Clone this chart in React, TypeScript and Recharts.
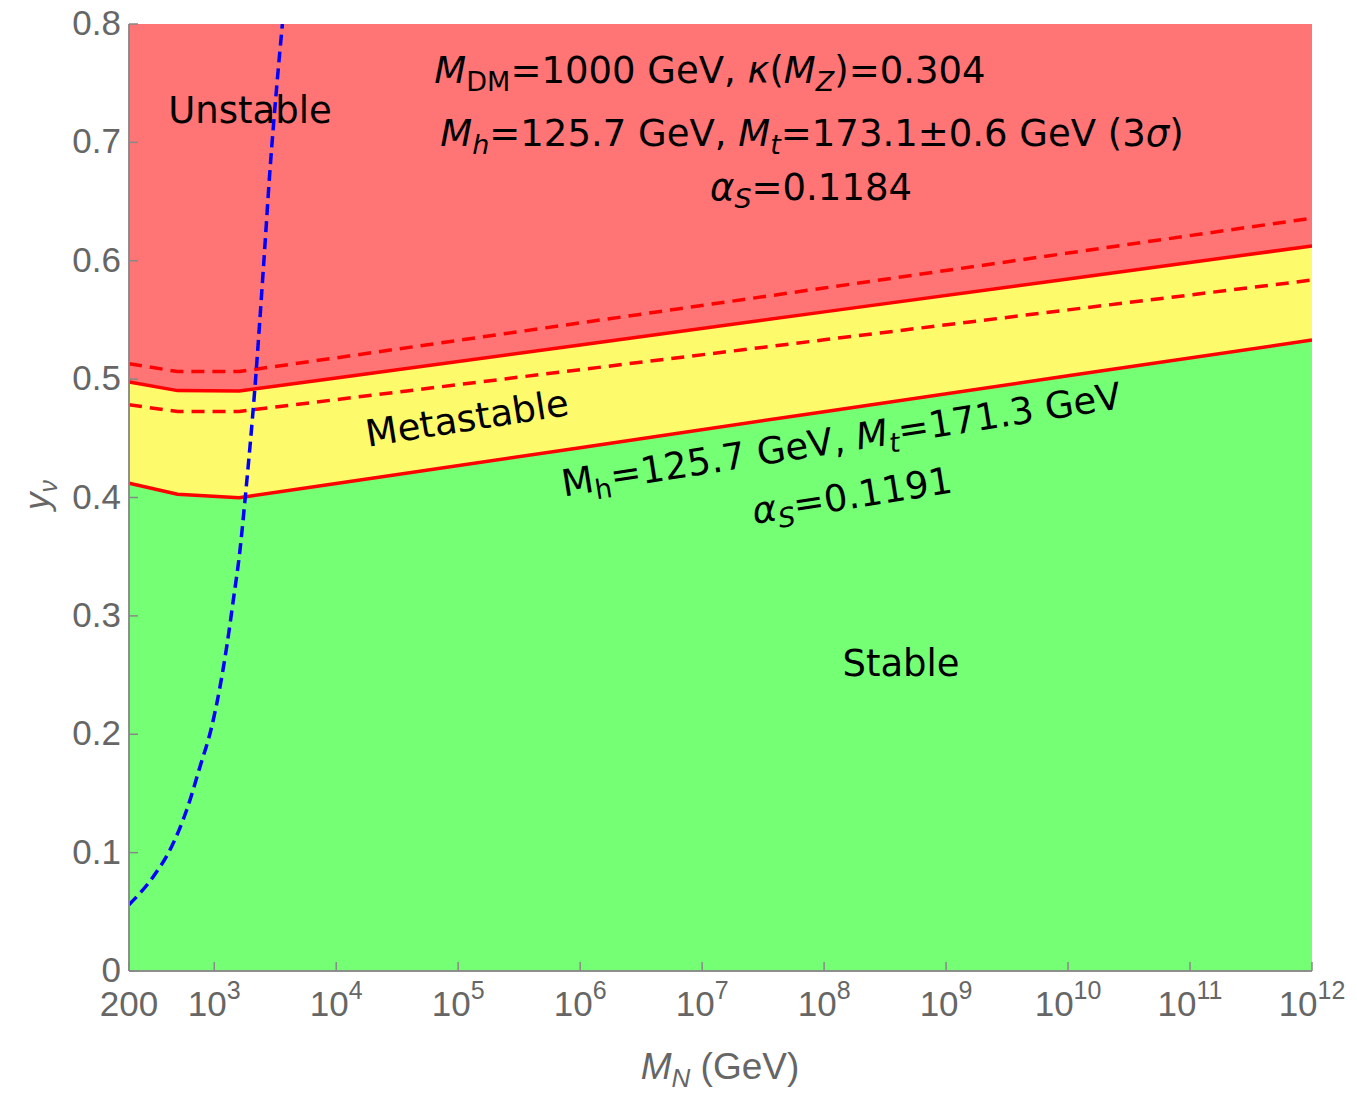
import { ComposedChart, Area, Line, XAxis, YAxis } from 'recharts'

// heavy neutrino mass grid (GeV) for the stability boundaries
const massGeV = [200, 500, 1600, 1e4, 1e6, 1e8, 1e10, 1e12]
// y_nu at the stable / metastable boundary (M_t = 171.3 GeV)
const stableEdge = [0.412, 0.4027, 0.3998, 0.4118, 0.4421, 0.4725, 0.5028, 0.533]
// y_nu at the metastable / unstable boundary (M_t = 173.1 GeV, central)
const unstableEdge = [0.4976, 0.4903, 0.49, 0.501, 0.5289, 0.5568, 0.5846, 0.6125]
// 3 sigma band on M_t for the unstable boundary
const unstableEdgeMtLow = [0.513, 0.5064, 0.5064, 0.518, 0.5475, 0.577, 0.6065, 0.636]
const unstableEdgeMtHigh = [0.4783, 0.4727, 0.4727, 0.4827, 0.508, 0.5332, 0.5585, 0.5837]

// seesaw relation y_nu(M_N)
const seesawMass = [200, 316, 433, 594, 764, 953, 1115, 1265, 1433, 1626, 1787, 2158, 2523, 2864, 3251, 3620]
const seesawYukawa = [0.056, 0.0797, 0.1022, 0.136, 0.1726, 0.2064, 0.2402, 0.274, 0.3134, 0.3557, 0.3979, 0.4936, 0.5922, 0.6767, 0.747, 0.8]

const xTicks = [200, 1e3, 1e4, 1e5, 1e6, 1e7, 1e8, 1e9, 1e10, 1e11, 1e12]
const yTicks = [0, 0.1, 0.2, 0.3, 0.4, 0.5, 0.6, 0.7, 0.8]
const yMinorTicks = [0, 0.05, 0.1, 0.15, 0.2, 0.25, 0.3, 0.35, 0.4, 0.45, 0.5, 0.55, 0.6, 0.65, 0.7, 0.75, 0.8]

const bandData = massGeV.map((m, i) => ({
  m,
  stable: [0, stableEdge[i]],
  meta: [stableEdge[i], unstableEdge[i]],
  unstable: [unstableEdge[i], 0.8],
  edgeLo: stableEdge[i],
  edgeHi: unstableEdge[i],
  dashHi: unstableEdgeMtLow[i],
  dashLo: unstableEdgeMtHigh[i]
}))

const seesawData = seesawMass.map((m, i) => ({ m, y: seesawYukawa[i] }))

const W = 1357
const H = 1096
const margin = { top: 24, right: 45, left: 0, bottom: 0 }
const frameColor = '#888'
const labelColor = '#666'
const tickFont = '"Liberation Sans", Arial, sans-serif'
const noteFont = '"DejaVu Sans", sans-serif'
const frameLine = { stroke: frameColor, strokeWidth: 1.5 }

const XLabel = ({ x, y, payload }: any) => {
  const v = payload.value
  const exp = Math.round(Math.log10(v))
  return (
    <text x={x} y={y + 45} textAnchor="middle" fill={labelColor} fontSize={35} fontFamily={tickFont}>
      {v !== 200 ? (
        <>
          <tspan>10</tspan>
          <tspan dy={-17} fontSize={25}>
            {exp}
          </tspan>
        </>
      ) : (
        '200'
      )}
    </text>
  )
}

const YLabel = ({ x, y, payload }: any) => (
  <text x={x - 8} y={y + 11} textAnchor="end" fill={labelColor} fontSize={35} fontFamily={tickFont}>
    {payload.value === 0 ? '0' : payload.value.toFixed(1)}
  </text>
)

// inward frame ticks
const BottomTick = ({ x, y }: any) => <line x1={x} x2={x} y1={y} y2={y - 9} {...frameLine} />
const TopTick = ({ x, y }: any) => <line x1={x} x2={x} y1={y} y2={y + 9} {...frameLine} />
const LeftTick = ({ x, y }: any) => <line x1={x} x2={x + 9} y1={y} y2={y} {...frameLine} />
const RightTick = ({ x, y }: any) => <line x1={x} x2={x - 9} y1={y} y2={y} {...frameLine} />

const axisCommon = {
  type: 'number' as const,
  allowDataOverflow: true,
  tickSize: 0,
  tickMargin: 0,
  tickLine: false,
  interval: 0 as const,
  axisLine: frameLine
}

const Sub = ({ children, italic }: any) => (
  <tspan dy={8} fontSize={27} fontStyle={italic ? 'italic' : undefined}>
    {children}
  </tspan>
)

const Notes = () => (
  <svg
    width={W}
    height={H}
    style={{ position: 'absolute', left: 0, top: 0, pointerEvents: 'none' }}
    fontFamily={noteFont}
    fontSize={37}
    fill="#000"
  >
    <text x={710} y={83} textAnchor="middle">
      <tspan fontStyle="italic">M</tspan>
      <Sub>DM</Sub>
      <tspan dy={-8}>=1000 GeV, </tspan>
      <tspan fontStyle="italic">κ</tspan>
      <tspan>(</tspan>
      <tspan fontStyle="italic">M</tspan>
      <Sub italic>Z</Sub>
      <tspan dy={-8}>)=0.304</tspan>
    </text>
    <text x={812} y={146} textAnchor="middle">
      <tspan fontStyle="italic">M</tspan>
      <Sub italic>h</Sub>
      <tspan dy={-8}>=125.7 GeV, </tspan>
      <tspan fontStyle="italic">M</tspan>
      <Sub italic>t</Sub>
      <tspan dy={-8}>=173.1±0.6 GeV (3</tspan>
      <tspan fontStyle="italic">σ</tspan>
      <tspan>)</tspan>
    </text>
    <text x={811} y={200} textAnchor="middle">
      <tspan fontStyle="italic">α</tspan>
      <Sub italic>S</Sub>
      <tspan dy={-8}>=0.1184</tspan>
    </text>
    <text x={250} y={123} textAnchor="middle">
      Unstable
    </text>
    <text x={901} y={676} textAnchor="middle">
      Stable
    </text>
    <text x={467} y={431} textAnchor="middle" transform="rotate(-9 467 418)">
      Metastable
    </text>
    <g transform="rotate(-9 846 470)">
      <text x={846} y={452} textAnchor="middle">
        <tspan>M</tspan>
        <Sub>h</Sub>
        <tspan dy={-8}>=125.7 GeV, </tspan>
        <tspan fontStyle="italic">M</tspan>
        <Sub italic>t</Sub>
        <tspan dy={-8}>=171.3 GeV</tspan>
      </text>
      <text x={848} y={509} textAnchor="middle">
        <tspan fontStyle="italic">α</tspan>
        <Sub italic>S</Sub>
        <tspan dy={-8}>=0.1191</tspan>
      </text>
    </g>
    <text
      x={0}
      y={0}
      transform="translate(49 495) rotate(-90)"
      textAnchor="middle"
      fill={labelColor}
      fontFamily={tickFont}
      fontSize={35}
    >
      <tspan fontStyle="italic">y</tspan>
      <tspan dy={8} fontSize={25} fontStyle="italic">ν</tspan>
    </text>
    <text x={720} y={1079} textAnchor="middle" fill={labelColor} fontFamily={tickFont} fontSize={37}>
      <tspan fontStyle="italic">M</tspan>
      <tspan dy={8} fontSize={26} fontStyle="italic">N</tspan>
      <tspan dy={-8}> (GeV)</tspan>
    </text>
  </svg>
)

// frame with inward ticks, drawn above the filled regions
const Frame = () => (
  <div style={{ position: 'absolute', left: 0, top: 0, pointerEvents: 'none' }}>
    <ComposedChart width={W} height={H} data={bandData} margin={margin}>
      <XAxis {...axisCommon} dataKey="m" scale="log" domain={[200, 1e12]} ticks={xTicks} height={125} tick={<BottomTick />} />
      <XAxis
        {...axisCommon}
        xAxisId="top"
        orientation="top"
        dataKey="m"
        scale="log"
        domain={[200, 1e12]}
        ticks={xTicks.slice(1, -1)}
        height={0}
        tick={<TopTick />}
      />
      <YAxis {...axisCommon} domain={[0, 0.8]} ticks={yTicks} width={129} tick={<LeftTick />} />
      <YAxis
        {...axisCommon}
        yAxisId="right"
        orientation="right"
        domain={[0, 0.8]}
        ticks={yMinorTicks}
        width={0}
        tick={<RightTick />}
      />
    </ComposedChart>
  </div>
)

export default function App() {
  return (
    <div style={{ position: 'absolute', left: 0, top: 0, width: W, height: H, background: '#fff' }}>
      <ComposedChart width={W} height={H} data={bandData} margin={margin}>
        <XAxis {...axisCommon} dataKey="m" scale="log" domain={[200, 1e12]} ticks={xTicks} height={125} tick={<XLabel />} />
        <YAxis {...axisCommon} domain={[0, 0.8]} ticks={yTicks} width={129} tick={<YLabel />} />
        <Area dataKey="stable" type="linear" stroke="none" fill="#74ff74" fillOpacity={1} isAnimationActive={false} />
        <Area dataKey="meta" type="linear" stroke="none" fill="#fdfa6c" fillOpacity={1} isAnimationActive={false} />
        <Area dataKey="unstable" type="linear" stroke="none" fill="#ff7474" fillOpacity={1} isAnimationActive={false} />
        <Line dataKey="dashHi" type="linear" stroke="#ff0000" strokeWidth={3.5} strokeDasharray="13 8" dot={false} isAnimationActive={false} />
        <Line dataKey="dashLo" type="linear" stroke="#ff0000" strokeWidth={3.5} strokeDasharray="13 8" dot={false} isAnimationActive={false} />
        <Line dataKey="edgeHi" type="linear" stroke="#ff0000" strokeWidth={3.5} dot={false} isAnimationActive={false} />
        <Line dataKey="edgeLo" type="linear" stroke="#ff0000" strokeWidth={3.5} dot={false} isAnimationActive={false} />
        <Line
          data={seesawData}
          dataKey="y"
          type="monotone"
          stroke="#0000ff"
          strokeWidth={3.5}
          strokeDasharray="11 6"
          dot={false}
          isAnimationActive={false}
        />
      </ComposedChart>
      <Frame />
      <Notes />
    </div>
  )
}
